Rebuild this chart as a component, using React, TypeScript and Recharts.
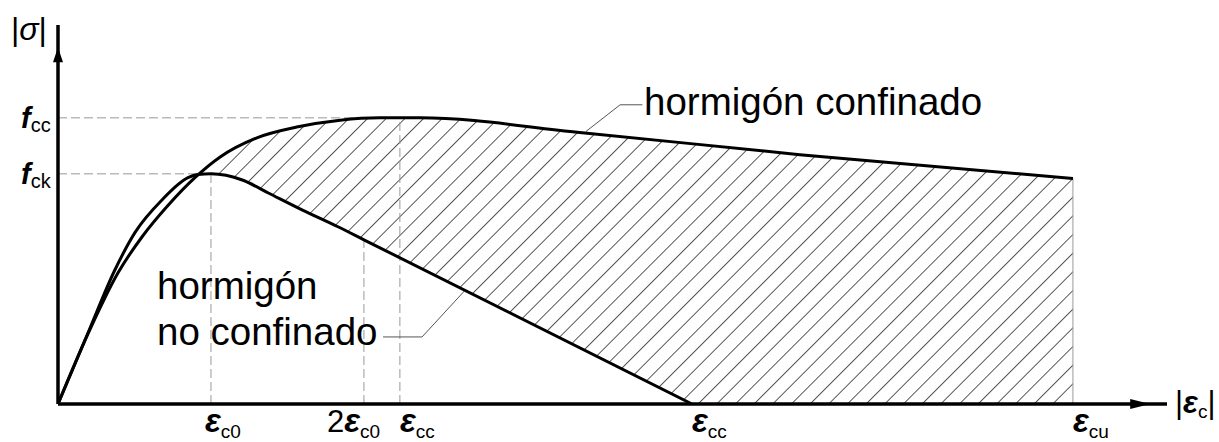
import { ComposedChart, Area, Line, XAxis, YAxis, ReferenceLine, ReferenceDot } from 'recharts'

const FONT = '"Liberation Sans", Arial, sans-serif'

// characteristic values (MPa, ‰)
const fck = 30
const fcc = 37.3
const ec0 = 2
const ecc = 4.47
const esp = 8.29
const ecu = 13.27

// unconfined concrete
const epsUnconf = [0, 0.39, 0.745, 1.01, 1.36, 1.7, 1.83, ec0, 2.41, 2.75, 3.19, 3.66, 2 * ec0, esp]
const sigUnconf = [0, 9.2, 17.5, 22.4, 26.6, 29.5, 29.9, fck, 29.2, 27.5, 25.3, 23.1, 21.4, 0]

// confined concrete
const epsConf = [0, 0.39, 0.785, 1.1, 1.44, 1.79, 2.12, 2.6, 3.12, 3.69, 4.21, ecc, 4.73, 6.82, 9.7, ecu]
const sigConf = [0, 9.1, 17.1, 21.8, 25.9, 29.5, 32.2, 34.7, 36.1, 37.0, 37.3, fcc, 37.3, 35.4, 32.5, 29.4]

const xTicks = [ec0, 2 * ec0, ecc, esp, ecu]
const xTickLabels = [
  { pre: '', sub: 'c0' },
  { pre: '2', sub: 'c0' },
  { pre: '', sub: 'cc' },
  { pre: '', sub: 'cc' },
  { pre: '', sub: 'cu' },
]
const yTicks = [fck, fcc]
const yTickLabels = ['ck', 'cc']

const unconfData = epsUnconf.map((eps, i) => ({ eps, sig: sigUnconf[i] }))
const confData = epsConf.map((eps, i) => ({ eps, sig: sigConf[i] }))

const sigAt2ec0 = sigUnconf[epsUnconf.indexOf(2 * ec0)]
const sigAtEcu = sigConf[sigConf.length - 1]

function XTick({ x, y, payload }: any) {
  const i = xTicks.indexOf(payload.value)
  const lab = xTickLabels[i]
  let shift = 0
  if (lab.pre) shift = -37
  else if (i === 0) shift = -6
  return (
    <text x={x + shift} y={y + 28} fontFamily={FONT} fill="#000">
      {lab.pre && <tspan fontSize={31}>{lab.pre}</tspan>}
      <tspan fontSize={33} fontStyle="italic" fontWeight="bold">ε</tspan>
      <tspan fontSize={19} dy={6}>{lab.sub}</tspan>
    </text>
  )
}

function YTick({ x, y, payload }: any) {
  const i = yTicks.indexOf(payload.value)
  return (
    <text x={x - 37} y={y + 10} fontFamily={FONT} fill="#000">
      <tspan fontSize={29} fontStyle="italic" fontWeight="bold">f</tspan>
      <tspan fontSize={20} dy={4}>{yTickLabels[i]}</tspan>
    </text>
  )
}

const arrowUp = ({ cx, cy }: any) => (
  <path d={`M${cx - 5},${cy + 15} L${cx},${cy} L${cx + 5},${cy + 15} Z`} fill="#000" />
)
const arrowRight = ({ cx, cy }: any) => (
  <path d={`M${cx - 20},${cy - 5} L${cx},${cy} L${cx - 20},${cy + 5} Z`} fill="#000" />
)

const dash = { stroke: '#999', strokeWidth: 1, strokeDasharray: '9 4' }
const leader = { stroke: '#555', strokeWidth: 1 }

export default function App() {
  return (
    <div style={{ position: 'relative', width: 1219, height: 442, background: '#fff' }}>
      <style>{'body{margin:0}'}</style>
      <ComposedChart width={1219} height={442} margin={{ top: 25, right: 52, bottom: 0, left: 0 }}>
        <defs>
          <pattern id="hatch" patternUnits="userSpaceOnUse" width={13.2} height={13.2} patternTransform="rotate(45)">
            <line x1={0.5} y1={0} x2={0.5} y2={13.2} stroke="#3a3a3a" strokeWidth={0.85} />
          </pattern>
        </defs>
        <XAxis
          dataKey="eps"
          type="number"
          domain={[0, 14.5]}
          ticks={xTicks}
          interval={0}
          tick={<XTick />}
          tickLine={false}
          tickSize={0}
          tickMargin={0}
          height={38}
          axisLine={{ stroke: '#000', strokeWidth: 3.5 }}
          allowDataOverflow
        />
        <YAxis
          type="number"
          domain={[0, 49.4]}
          ticks={yTicks}
          interval={0}
          tick={<YTick />}
          tickLine={false}
          tickSize={0}
          tickMargin={0}
          width={58}
          axisLine={{ stroke: '#000', strokeWidth: 3.5 }}
          allowDataOverflow
        />
        {/* hatched band: confined area, then the unconfined area painted white over it */}
        <Area
          data={confData}
          dataKey="sig"
          type="monotone"
          stroke="none"
          fill="url(#hatch)"
          fillOpacity={1}
          isAnimationActive={false}
        />
        <Area
          data={unconfData}
          dataKey="sig"
          type="monotone"
          stroke="none"
          fill="#fff"
          fillOpacity={1}
          isAnimationActive={false}
        />
        <ReferenceLine segment={[{ x: 0, y: fcc }, { x: ecc, y: fcc }]} {...dash} />
        <ReferenceLine segment={[{ x: 0, y: fck }, { x: ec0, y: fck }]} {...dash} />
        <ReferenceLine segment={[{ x: ec0, y: 0 }, { x: ec0, y: fck }]} {...dash} />
        <ReferenceLine segment={[{ x: 2 * ec0, y: 0 }, { x: 2 * ec0, y: sigAt2ec0 }]} {...dash} />
        <ReferenceLine segment={[{ x: ecc, y: 0 }, { x: ecc, y: fcc }]} {...dash} />
        <ReferenceLine segment={[{ x: ecu, y: 0 }, { x: ecu, y: sigAtEcu }]} stroke="#999" strokeWidth={1} />
        {/* leaders for the curve labels */}
        <ReferenceLine segment={[{ x: 7.64, y: 39.0 }, { x: 7.35, y: 39.0 }]} {...leader} />
        <ReferenceLine segment={[{ x: 7.35, y: 39.0 }, { x: 6.9, y: 35.5 }]} {...leader} />
        <ReferenceLine segment={[{ x: 4.25, y: 8.74 }, { x: 4.76, y: 8.74 }]} {...leader} />
        <ReferenceLine segment={[{ x: 4.76, y: 8.74 }, { x: 5.32, y: 14.8 }]} {...leader} />
        <Line
          data={unconfData}
          dataKey="sig"
          type="monotone"
          stroke="#000"
          strokeWidth={3}
          dot={false}
          isAnimationActive={false}
        />
        <Line
          data={confData}
          dataKey="sig"
          type="monotone"
          stroke="#000"
          strokeWidth={3}
          dot={false}
          isAnimationActive={false}
        />
        <ReferenceDot x={0} y={46.5} r={0} shape={arrowUp} ifOverflow="visible" />
        <ReferenceDot x={14.28} y={0} r={0} shape={arrowRight} ifOverflow="visible" />
      </ComposedChart>
      <svg
        width={1219}
        height={442}
        style={{ position: 'absolute', left: 0, top: 0, pointerEvents: 'none' }}
        fontFamily={FONT}
        fill="#000"
      >
        <text x={11} y={40} fontSize={32}>
          |<tspan fontStyle="italic">σ</tspan>|
        </text>
        <text x={1175} y={413} fontSize={31}>
          |<tspan fontStyle="italic" fontWeight="bold">ε</tspan>
          <tspan fontSize={19} dy={5}>c</tspan>
          <tspan dy={-5}>|</tspan>
        </text>
        <text x={157} y={299} fontSize={38.5}>hormigón</text>
        <text x={157} y={345} fontSize={38.5}>no confinado</text>
        <text x={644} y={115} fontSize={38.5}>hormigón confinado</text>
      </svg>
    </div>
  )
}
